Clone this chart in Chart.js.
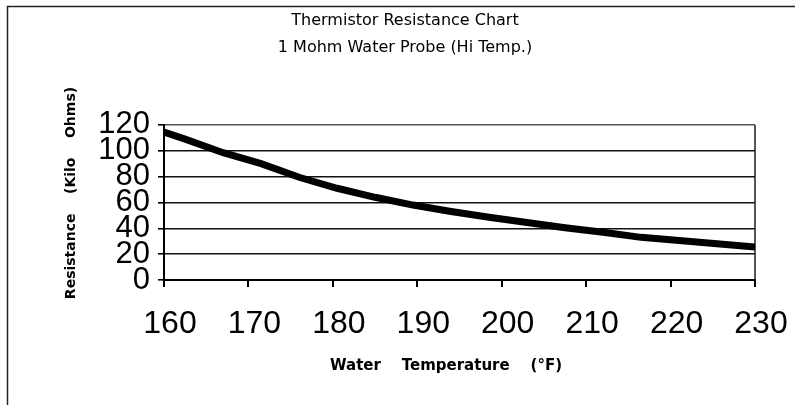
<!DOCTYPE html>
<html>
<head>
<meta charset="utf-8">
<script src="https://cdn.jsdelivr.net/npm/chart.js@4/dist/chart.umd.min.js"></script>
<style>
  html, body { margin: 0; padding: 0; background: #ffffff; }
  #wrap { width: 795px; height: 405px; position: relative; }
</style>
</head>
<body>
<div id="wrap"><canvas id="chart" width="795" height="405"></canvas></div>
<script>
// Probe readings: temperature (°F) against resistance (kilo-ohms)
const temperaturesF = [160, 162.5, 167, 171.5, 176, 180.5, 185, 189.5, 194, 198.5, 203, 207.5, 212, 216.5, 221, 225.5, 230];
const resistanceKOhm = [114.5, 109, 98.5, 90, 79.5, 71, 64, 58, 53, 48.5, 44.5, 40.5, 37, 33, 30.5, 28, 25.5];

const titleLines = ['Thermistor Resistance Chart', '1 Mohm Water Probe (Hi Temp.)'];
const xAxisTitle = 'Water    Temperature    (°F)';
const yAxisTitle = 'Resistance    (Kilo    Ohms)';

const xMin = 160, xMax = 230, xStep = 10;
const yMin = 0, yMax = 120, yStep = 20;

const points = temperaturesF.map((t, i) => ({ x: t, y: resistanceKOhm[i] }));

function evenTicks(min, max, step) {
  const out = [];
  for (let v = min; v <= max + 1e-9; v += step) out.push({ value: v });
  return out;
}

// Outer frame and axis captions
const decorations = {
  id: 'decorations',
  beforeDraw(chart) {
    const ctx = chart.ctx;
    ctx.save();
    ctx.strokeStyle = '#222';
    ctx.lineWidth = 1.5;
    ctx.strokeRect(7.5, 6.5, 820, 420);
    ctx.restore();
  },
  afterDraw(chart) {
    const ctx = chart.ctx;
    ctx.save();
    ctx.fillStyle = '#000';
    ctx.textAlign = 'center';
    ctx.textBaseline = 'middle';
    ctx.font = 'bold 15px "DejaVu Sans"';
    ctx.fillText(xAxisTitle, 446, 366);
    ctx.font = 'bold 14px "DejaVu Sans"';
    ctx.translate(71, 193);
    ctx.rotate(-Math.PI / 2);
    ctx.fillText(yAxisTitle, 0, 0);
    ctx.restore();
  }
};

new Chart(document.getElementById('chart'), {
  type: 'line',
  data: {
    datasets: [{
      data: points,
      borderColor: '#000',
      borderWidth: 7,
      pointRadius: 0,
      tension: 0,
      fill: false,
      clip: 0
    }]
  },
  options: {
    responsive: false,
    animation: false,
    events: [],
    layout: { padding: { left: 55, right: 40, top: 0, bottom: 43.6 } },
    plugins: {
      legend: { display: false },
      tooltip: { enabled: false },
      title: {
        display: true,
        text: titleLines,
        color: '#000',
        font: { family: '"DejaVu Sans"', size: 16, weight: 'normal', lineHeight: 1.67 },
        padding: { top: 7.5, bottom: 64 }
      }
    },
    scales: {
      x: {
        type: 'linear',
        min: xMin,
        max: xMax,
        afterBuildTicks(scale) { scale.ticks = evenTicks(xMin, xMax, xStep); },
        afterFit(scale) { scale.paddingRight = 0; scale.paddingLeft = 0; },
        ticks: {
          color: '#000',
          font: { family: '"Liberation Sans"', size: 32 },
          padding: 18,
          labelOffset: 6,
          maxRotation: 0,
          autoSkip: false
        },
        grid: {
          drawOnChartArea: true,
          color: (c) => (c.tick && c.tick.value === xMax ? '#555' : 'rgba(0,0,0,0)'),
          lineWidth: 2,
          tickColor: '#000',
          tickLength: 7
        },
        border: { color: '#000', width: 2 }
      },
      y: {
        min: yMin,
        max: yMax,
        afterBuildTicks(scale) { scale.ticks = evenTicks(yMin, yMax, yStep); },
        ticks: {
          color: '#000',
          font: { family: '"Liberation Sans"', size: 31 },
          padding: 8,
          autoSkip: false
        },
        grid: {
          color: (c) => (c.tick && c.tick.value === yMax ? '#555' : '#111'),
          lineWidth: 1.6,
          tickColor: '#000',
          tickLength: 6
        },
        border: { color: '#000', width: 2 },
        afterFit(scale) { scale.width = 109; }
      }
    }
  },
  plugins: [decorations]
});
</script>
</body>
</html>
